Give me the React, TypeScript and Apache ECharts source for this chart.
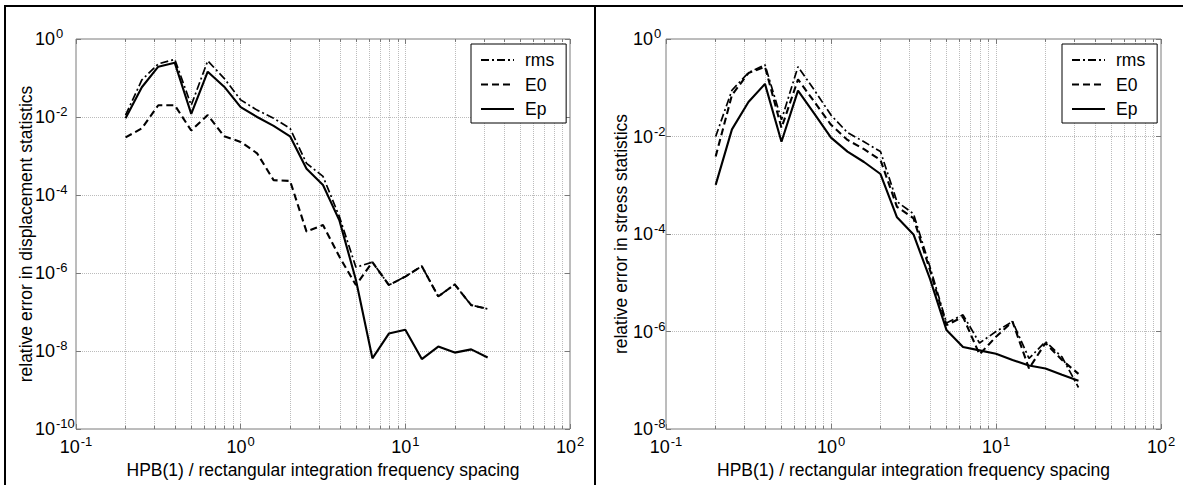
import React, { useEffect, useRef } from "react";
import * as echarts from "echarts";

// HPB(1) / rectangular integration frequency spacing
const FREQ = [0.2, 0.251, 0.316, 0.398, 0.501, 0.631, 0.794, 1, 1.259, 1.585, 1.995, 2.512, 3.162, 3.981, 5.012, 6.31, 7.943, 10, 12.59, 15.85, 19.95, 25.12, 31.62];

// Left panel: relative error in displacement statistics
const DISP_RMS = [1.12e-2, 8.9e-2, 0.23, 0.3, 2.0e-2, 0.275, 9.8e-2, 2.75e-2, 1.5e-2, 9.3e-3, 5.1e-3, 6.5e-4, 3.0e-4, 2.75e-5, 1.4e-6, 1.9e-6, 4.9e-7, 8.1e-7, 1.5e-6, 2.5e-7, 5.1e-7, 1.5e-7, 1.2e-7];
const DISP_E0 = [3.0e-3, 5.1e-3, 2.0e-2, 2.0e-2, 4.5e-3, 1.12e-2, 3.2e-3, 2.3e-3, 1.17e-3, 2.4e-4, 2.3e-4, 1.15e-5, 1.7e-5, 2.6e-6, 4.9e-7, 1.9e-6, 4.9e-7, 8.1e-7, 1.5e-6, 2.5e-7, 5.1e-7, 1.5e-7, 1.2e-7];
const DISP_EP = [9.3e-3, 5.8e-2, 0.195, 0.245, 1.2e-2, 0.145, 6.0e-2, 1.8e-2, 1.0e-2, 5.9e-3, 3.2e-3, 4.7e-4, 1.8e-4, 2.2e-5, 6.6e-7, 6.5e-9, 2.8e-8, 3.5e-8, 6.2e-9, 1.3e-8, 9.1e-9, 1.1e-8, 6.8e-9];

// Right panel: relative error in stress statistics
const STRESS_RMS = [1.0e-2, 8.9e-2, 0.204, 0.295, 2.2e-2, 0.27, 8.9e-2, 2.75e-2, 1.2e-2, 7.8e-3, 4.9e-3, 4.6e-4, 2.6e-4, 2.1e-5, 1.5e-6, 2.2e-6, 5.8e-7, 1.0e-6, 1.6e-6, 2.8e-7, 6.2e-7, 3.0e-7, 7.1e-8];
const STRESS_E0 = [3.9e-3, 7.1e-2, 0.2, 0.27, 1.5e-2, 0.148, 5.1e-2, 1.74e-2, 8.5e-3, 5.5e-3, 3.3e-3, 3.6e-4, 2.1e-4, 1.8e-5, 1.35e-6, 2.0e-6, 3.4e-7, 7.8e-7, 1.6e-6, 1.74e-7, 5.8e-7, 2.6e-7, 1.35e-7];
const STRESS_EP = [1.02e-3, 1.4e-2, 5.1e-2, 0.12, 7.8e-3, 8.7e-2, 2.9e-2, 9.5e-3, 4.9e-3, 3.0e-3, 1.7e-3, 2.2e-4, 9.8e-5, 1.2e-5, 1.07e-6, 4.8e-7, 4.1e-7, 3.5e-7, 2.6e-7, 2.0e-7, 1.74e-7, 1.3e-7, 9.8e-8];

const SERIES_NAMES = ["rms", "E0", "Ep"];
const X_TITLE = "HPB(1) / rectangular integration frequency spacing";
const Y_TITLES = ["relative error in displacement statistics", "relative error in stress statistics"];
const Y_MINS = [1e-10, 1e-8];

const FONT = '"Liberation Sans", Arial, Helvetica, sans-serif';
const GRID_COLOR = "#bcbcbc";
const BOX_COLOR = "#7a7a7a";

const rich = {
  b: { fontSize: 18, fontFamily: FONT, color: "#000" },
  s: { fontSize: 13, fontFamily: FONT, color: "#000", padding: [0, 0, 11, 1] },
};

function powLabel(v: number) {
  const e = Math.round(Math.log10(v));
  return `{b|10}{s|${e}}`;
}

function pairs(ys: number[]) {
  return FREQ.map((x, i) => [x, ys[i]]);
}

function lineSeries(name: string, ys: number[], idx: number, type: any, width: number) {
  return {
    type: "line",
    name,
    xAxisIndex: idx,
    yAxisIndex: idx,
    data: pairs(ys),
    symbol: "none",
    showSymbol: false,
    silent: true,
    lineStyle: { color: "#000", width, type },
    itemStyle: { color: "#000" },
  };
}

export default function App() {
  const ref = useRef<HTMLDivElement>(null);
  useEffect(() => {
    if (!ref.current) return;
    const chart = echarts.init(ref.current, undefined, { renderer: "svg" });
    const grids = [
      { left: 76, top: 39, width: 494, height: 390 },
      { left: 666, top: 39, width: 495, height: 390 },
    ];
    const mainX = (gi: number) => ({
      type: "log",
      gridIndex: gi,
      min: 0.1,
      max: 100,
      logBase: 10,
      interval: 1,
      position: "bottom",
      name: X_TITLE,
      nameLocation: "middle",
      nameGap: 28,
      nameTextStyle: { fontSize: 17.5, fontFamily: FONT, color: "#000" },
      axisLine: { show: false },
      axisTick: { show: true, inside: true, length: 5, lineStyle: { color: BOX_COLOR } },
      minorTick: { show: true, splitNumber: 9, length: 3, lineStyle: { color: BOX_COLOR } },
      axisLabel: { formatter: powLabel, rich, fontSize: 18, fontFamily: FONT, color: "#000", margin: 6 },
      splitLine: { show: true, lineStyle: { color: GRID_COLOR, type: "dotted", width: 1 } },
      minorSplitLine: { show: true, lineStyle: { color: GRID_COLOR, type: "dotted", width: 1 } },
    });
    const topX = (gi: number) => ({
      type: "log",
      gridIndex: gi,
      min: 0.1,
      max: 100,
      logBase: 10,
      interval: 1,
      position: "top",
      axisLine: { show: false },
      axisTick: { show: true, inside: true, length: 5, lineStyle: { color: BOX_COLOR } },
      minorTick: { show: true, splitNumber: 9, length: 3, lineStyle: { color: BOX_COLOR } },
      axisLabel: { show: false },
      splitLine: { show: false },
    });
    const mainY = (gi: number) => ({
      type: "log",
      gridIndex: gi,
      min: Y_MINS[gi],
      max: 1,
      logBase: 10,
      interval: 2,
      position: "left",
      name: Y_TITLES[gi],
      nameLocation: "middle",
      nameMoveOverlap: false,
      nameGap: gi === 0 ? 41 : 36,
      nameTextStyle: { fontSize: 17.5, fontFamily: FONT, color: "#000" },
      axisLine: { show: false },
      axisTick: { show: true, inside: true, length: 5, lineStyle: { color: BOX_COLOR } },
      axisLabel: { formatter: powLabel, rich, fontSize: 18, fontFamily: FONT, color: "#000", align: "left", margin: gi === 0 ? 41 : 33 },
      splitLine: { show: true, lineStyle: { color: GRID_COLOR, type: "dotted", width: 1 } },
    });
    const rightY = (gi: number) => ({
      type: "log",
      gridIndex: gi,
      min: Y_MINS[gi],
      max: 1,
      logBase: 10,
      interval: 2,
      position: "right",
      axisLine: { show: false },
      axisTick: { show: true, inside: true, length: 5, lineStyle: { color: BOX_COLOR } },
      axisLabel: { show: false },
      splitLine: { show: false },
    });
    const legendBase = {
      data: SERIES_NAMES,
      orient: "vertical",
      top: 44,
      itemWidth: 33,
      itemHeight: 14,
      itemGap: 6.5,
      padding: [7, 12, 5, 9],
      borderColor: "#000",
      borderWidth: 1,
      backgroundColor: "#fff",
      selectedMode: false,
      itemStyle: { opacity: 0 },
      textStyle: { fontSize: 17.5, fontFamily: FONT, color: "#000", padding: [0, 0, 0, 6] },
    };
    const option: any = {
      animation: false,
      backgroundColor: "#fff",
      grid: grids.map((g) => ({ ...g, show: true, borderColor: BOX_COLOR, borderWidth: 1, backgroundColor: "#fff" })),
      xAxis: [mainX(0), mainX(1), topX(0), topX(1)],
      yAxis: [mainY(0), mainY(1), rightY(0), rightY(1)],
      legend: [
        { ...legendBase, left: 471 },
        { ...legendBase, left: 1062 },
      ],
      series: [
        lineSeries("rms", DISP_RMS, 0, [8, 3, 2, 3], 1.7),
        lineSeries("E0", DISP_E0, 0, [7, 4], 2.1),
        lineSeries("Ep", DISP_EP, 0, "solid", 2.1),
        lineSeries("rms", STRESS_RMS, 1, [8, 3, 2, 3], 1.7),
        lineSeries("E0", STRESS_E0, 1, [7, 4], 2.1),
        lineSeries("Ep", STRESS_EP, 1, "solid", 2.1),
      ],
      graphic: [
        { type: "rect", shape: { x: 4, y: 5, width: 1179, height: 2 }, style: { fill: "#000" }, silent: true },
        { type: "rect", shape: { x: 4, y: 5, width: 2, height: 480 }, style: { fill: "#000" }, silent: true },
        { type: "rect", shape: { x: 594, y: 5, width: 2, height: 480 }, style: { fill: "#000" }, silent: true },
      ],
    };
    chart.setOption(option);
    return () => chart.dispose();
  }, []);
  return (
    <div
      ref={ref}
      style={{ position: "fixed", left: 0, top: 0, width: 1183, height: 485, background: "#fff" }}
    />
  );
}
